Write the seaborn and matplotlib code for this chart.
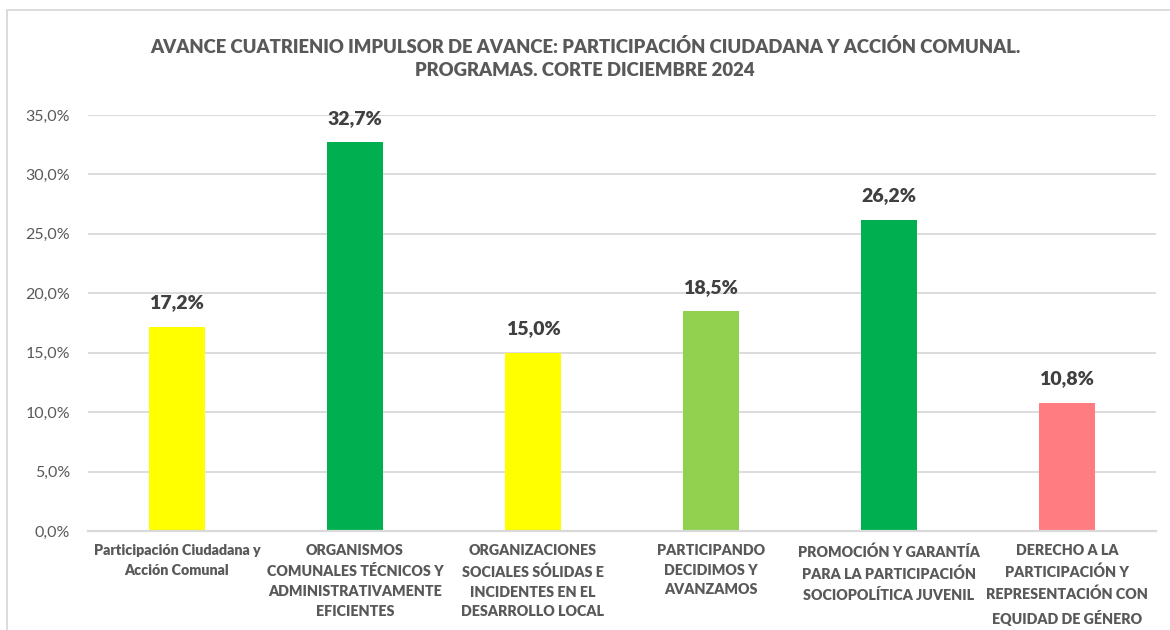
import matplotlib
matplotlib.use("Agg")
import matplotlib.pyplot as plt
from matplotlib.patches import Rectangle
from matplotlib.ticker import FuncFormatter, MultipleLocator
import seaborn as sns
import pandas as pd

categories = [
    "Participación Ciudadana y\nAcción Comunal",
    "ORGANISMOS\nCOMUNALES TÉCNICOS Y\nADMINISTRATIVAMENTE\nEFICIENTES",
    "ORGANIZACIONES\nSOCIALES SÓLIDAS E\nINCIDENTES EN EL\nDESARROLLO LOCAL",
    "PARTICIPANDO\nDECIDIMOS Y\nAVANZAMOS",
    "PROMOCIÓN Y GARANTÍA\nPARA LA PARTICIPACIÓN\nSOCIOPOLÍTICA JUVENIL",
    "DERECHO A LA\nPARTICIPACIÓN Y\nREPRESENTACIÓN CON\nEQUIDAD DE GÉNERO",
]
avance = [0.172, 0.327, 0.150, 0.185, 0.262, 0.108]
colores = ["#FFFF00", "#00B050", "#FFFF00", "#92D050", "#00B050", "#FF7C80"]
titulo = ("AVANCE CUATRIENIO IMPULSOR DE AVANCE: PARTICIPACIÓN CIUDADANA Y ACCIÓN COMUNAL.\n"
          "PROGRAMAS. CORTE DICIEMBRE 2024")

sns.set_theme(style="white")
plt.rcParams["font.family"] = ["Lato", "DejaVu Sans"]

gris = "#595959"
linea = "#D9D9D9"

df = pd.DataFrame({"programa": categories, "avance": avance})

fig = plt.figure(figsize=(11.7, 6.3), dpi=100)
ax = fig.add_axes([0.0752, 0.157, 0.9128, 0.6605])

sns.barplot(data=df, x="programa", y="avance", hue="programa",
            palette=colores, width=0.315, legend=False, ax=ax,
            saturation=1, edgecolor="none")

ax.set_ylim(0, 0.35)
ax.yaxis.set_major_locator(MultipleLocator(0.05))
ax.yaxis.set_major_formatter(FuncFormatter(lambda v, _: f"{v*100:.1f}%".replace(".", ",")))
ax.grid(axis="y", color=linea, linewidth=1.3)
ax.set_axisbelow(True)
for s in ["top", "right", "left"]:
    ax.spines[s].set_visible(False)
ax.spines["bottom"].set_color(linea)
ax.spines["bottom"].set_linewidth(1.6)

ax.set_xlabel("")
ax.set_ylabel("")
ax.tick_params(axis="y", length=0, pad=13, labelsize=11.5, labelcolor=gris)
ax.tick_params(axis="x", length=0, pad=9.5)
ax.set_xticks(range(len(categories)))
ax.set_xticklabels(categories, fontsize=10.3, fontweight="heavy", color=gris,
                   linespacing=1.6)

for cont in ax.containers:
    etiquetas = [f"{b.get_height()*100:.1f}%".replace(".", ",") for b in cont]
    ax.bar_label(cont, labels=etiquetas, padding=11, fontsize=14,
                 fontweight="heavy", color="#404040")

fig.text(0.5, 0.907, titulo, ha="center", va="center", fontsize=13.3,
         fontweight="heavy", color=gris, linespacing=1.4)

# Chart frame
fig.patches.append(Rectangle((0.006, -0.05), 1.2, 1.034, transform=fig.transFigure,
                             fill=False, edgecolor=linea, linewidth=1.3))

fig.savefig("out.png", dpi=100, facecolor="white")
